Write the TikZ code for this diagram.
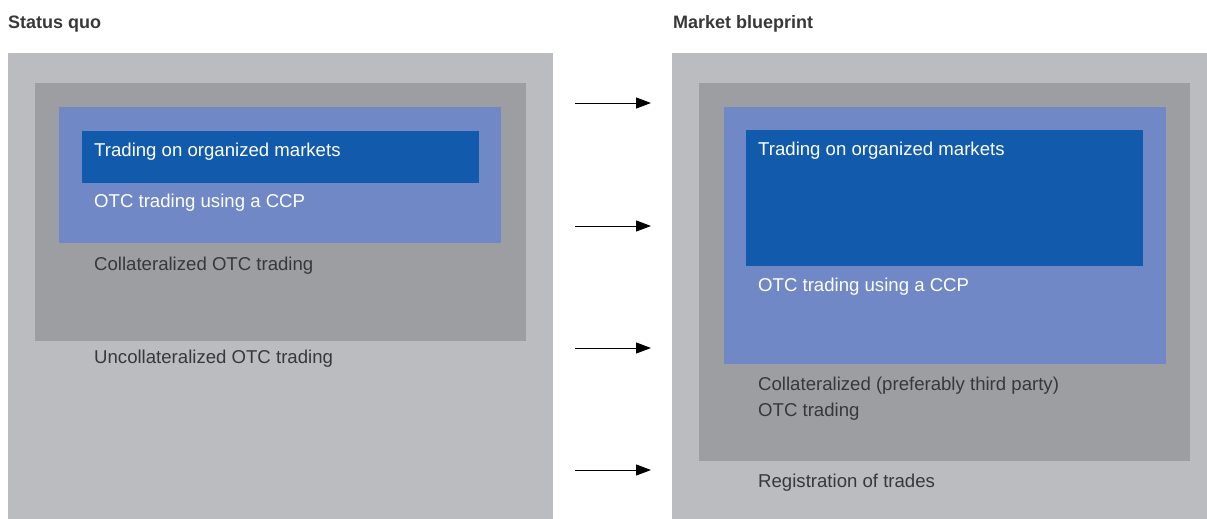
\documentclass[tikz,border=0pt]{standalone}
\usepackage{fontspec}
\setmainfont{Liberation Sans}
\usetikzlibrary{arrows.meta}
\definecolor{lgray}{HTML}{BBBCC0}
\definecolor{dgray}{HTML}{9D9EA2}
\definecolor{mblue}{HTML}{7088C6}
\definecolor{dblue}{HTML}{125AAB}
\definecolor{txtgray}{HTML}{38383A}
\begin{document}
\begin{tikzpicture}[x=1pt,y=-1pt,
  box/.style={inner sep=0pt, outer sep=0pt, anchor=north west, draw=none},
  lbl/.style={anchor=base west, inner sep=0pt, font=\fontsize{18.6}{21}\selectfont},
  dark/.style={lbl, text=txtgray},
  light/.style={lbl, text=white},
  ttl/.style={anchor=base west, inner sep=0pt, font=\fontsize{18}{21}\selectfont\bfseries, text=txtgray},
  arr/.style={draw=black, line width=1pt, -{Triangle[length=15pt,width=11pt]}}]
\useasboundingbox (0,0) rectangle (1207,519);
% titles
\node[ttl] (t1) at (8,29) {Status quo};
\node[ttl] (t2) at (673,29) {Market blueprint};
% left panel
\node[box, fill=lgray, minimum width=545pt, minimum height=466pt] (L0) at (8,53) {};
\node[box, fill=dgray, minimum width=491pt, minimum height=258pt] (L1) at (35,83) {};
\node[box, fill=mblue, minimum width=442pt, minimum height=136pt] (L2) at (59,107) {};
\node[box, fill=dblue, minimum width=397pt, minimum height=52pt] (L3) at (82,131) {};
\node[light] (l3t) at (94,156) {Trading on organized markets};
\node[light] (l2t) at (94,207) {OTC trading using a CCP};
\node[dark] (l1t) at (94,270) {Collateralized OTC trading};
\node[dark] (l0t) at (94,363) {Uncollateralized OTC trading};
% right panel
\node[box, fill=lgray, minimum width=535pt, minimum height=466pt] (R0) at (672,53) {};
\node[box, fill=dgray, minimum width=491pt, minimum height=378pt] (R1) at (699,83) {};
\node[box, fill=mblue, minimum width=442pt, minimum height=257pt] (R2) at (724,107) {};
\node[box, fill=dblue, minimum width=397pt, minimum height=136pt] (R3) at (746,130) {};
\node[light] (r3t) at (758,155) {Trading on organized markets};
\node[light] (r2t) at (758,291) {OTC trading using a CCP};
\node[dark] (r1t) at (758,390) {Collateralized (preferably third party)};
\node[dark] (r1u) at (758,416) {OTC trading};
\node[dark] (r0t) at (758,487) {Registration of trades};
% arrows
\coordinate (a1s) at (575,103); \coordinate (a1e) at (651,103);
\coordinate (a2s) at (575,226); \coordinate (a2e) at (651,226);
\coordinate (a3s) at (575,348); \coordinate (a3e) at (651,348);
\coordinate (a4s) at (575,470); \coordinate (a4e) at (651,470);
\draw[arr] (a1s) -- (a1e);
\draw[arr] (a2s) -- (a2e);
\draw[arr] (a3s) -- (a3e);
\draw[arr] (a4s) -- (a4e);
\end{tikzpicture}
\end{document}
